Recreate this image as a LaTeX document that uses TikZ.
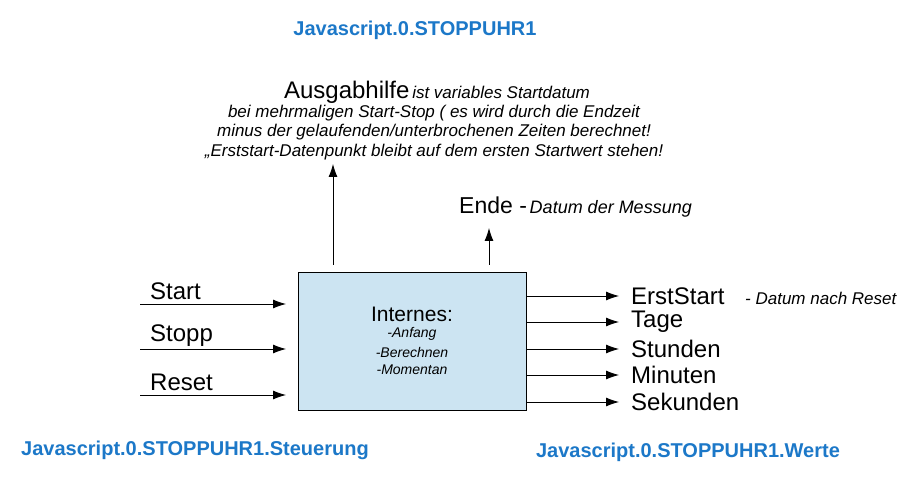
\documentclass[tikz,border=0pt]{standalone}
\usepackage{fontspec}
\setmainfont{Liberation Sans}
\usetikzlibrary{arrows.meta,positioning}
\definecolor{titleblue}{RGB}{28,120,200}
\definecolor{boxblue}{RGB}{204,228,242}
\tikzset{
    title/.style={text=titleblue,font=\fontsize{20}{24}\selectfont\bfseries},
    big/.style={font=\fontsize{24}{28}\selectfont,anchor=west,inner sep=0pt},
    note/.style={font=\fontsize{17}{20}\selectfont\itshape,inner sep=0pt},
    boxnote/.style={font=\fontsize{14}{17}\selectfont\itshape,inner sep=0pt},
    pfeil/.style={-{Latex[length=13pt,width=9pt]},line width=0.8pt},
}
\begin{document}
\begin{tikzpicture}[x=1pt,y=-1pt]
    \useasboundingbox (0,0) rectangle (911,481);

    % Titel
    \node[title] (top) at (415,30) {Javascript.0.STOPPUHR1};
    \node[title] (steuer) at (195,450) {Javascript.0.STOPPUHR1.Steuerung};
    \node[title] (werte) at (688,452) {Javascript.0.STOPPUHR1.Werte};

    % Box
    \node[draw,fill=boxblue,line width=0.6pt,minimum width=228pt,minimum height=138pt] (box) at (412,341) {};
    \node[font=\fontsize{21}{24}\selectfont] (int) at (412,314) {Internes:};
    \node[boxnote] (anf) at (412,334) {-Anfang};
    \node[boxnote] (ber) at (412,352) {-Berechnen};
    \node[boxnote] (mom) at (412,370) {-Momentan};

    % Ausgabhilfe
    \node[inner sep=0pt] (aus) at (437,92) {{\fontsize{24}{26}\selectfont Ausgabhilfe} {\fontsize{17}{20}\selectfont\itshape ist variables Startdatum}};
    \node[note] (aus2) at (434,113) {bei mehrmaligen Start-Stop ( es wird durch die Endzeit};
    \node[note] (aus3) at (434,132) {minus der gelaufenden/unterbrochenen Zeiten berechnet!};
    \node[note] (aus4) at (434,152) {„Erststart-Datenpunkt bleibt auf dem ersten Startwert stehen!};
    \coordinate (a1) at (333,265);
    \coordinate (a2) at (333,164);
    \draw[pfeil] (a1) -- (a2);

    % Ende
    \node[inner sep=0pt,anchor=west] (ende) at (459,207) {{\fontsize{23}{26}\selectfont Ende -} {\fontsize{18}{21}\selectfont\itshape Datum der Messung}};
    \coordinate (e1) at (489,265);
    \coordinate (e2) at (489,228);
    \draw[pfeil] (e1) -- (e2);

    % Eingaenge
    \foreach \y/\txt in {304/Start,349/Stopp,395/Reset}{
        \coordinate (in\txt) at (140,\y);
        \coordinate (to\txt) at (286,\y);
        \draw[pfeil] (in\txt) -- (to\txt);
        \node[big] (l\txt) at (150,\y-13) {\txt};
    }

    % Ausgaenge
    \foreach \y/\txt in {296/ErstStart,322/Tage,349/Stunden,375/Minuten,402/Sekunden}{
        \coordinate (out\txt) at (526,\y);
        \coordinate (end\txt) at (619,\y);
        \draw[pfeil] (out\txt) -- (end\txt);
        \node[big] (r\txt) at (631,\y) {\txt};
    }
    \node[note,anchor=west] (reset) at (745,298) {- Datum nach Reset};
\end{tikzpicture}
\end{document}
